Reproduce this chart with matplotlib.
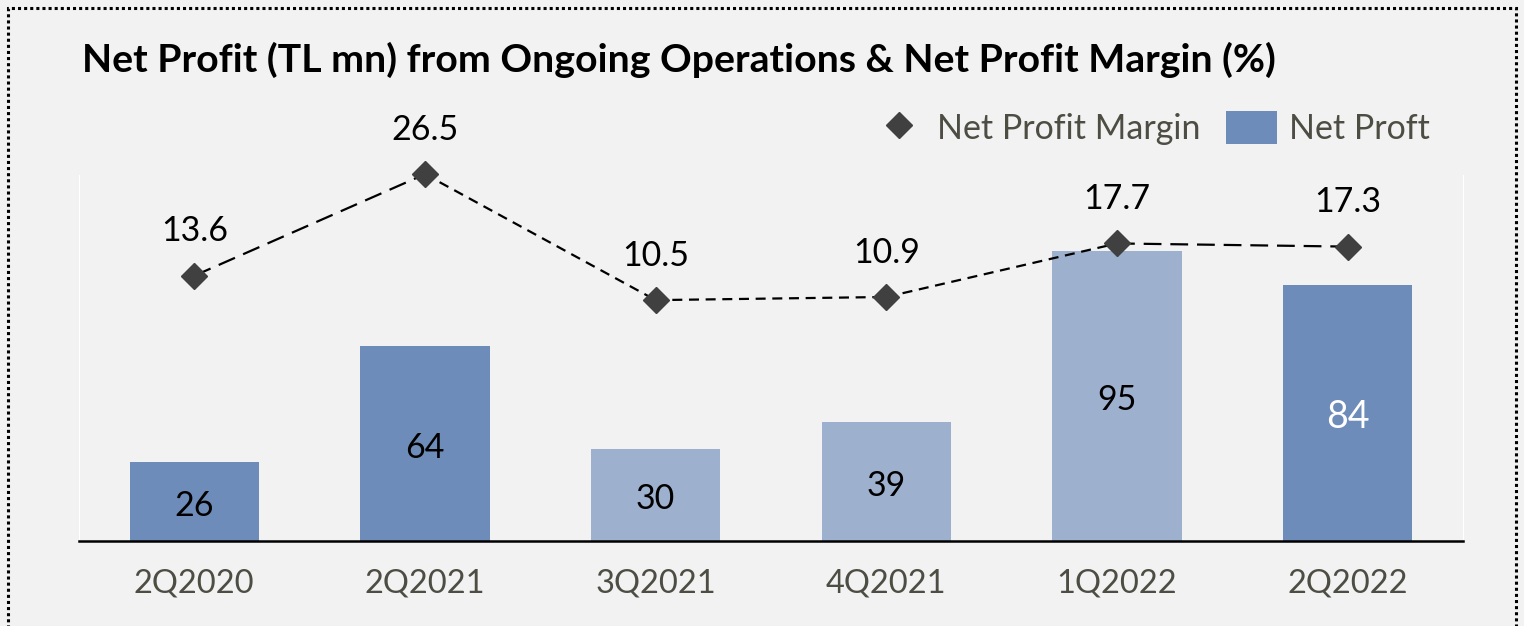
import matplotlib

matplotlib.use("Agg")
import matplotlib.pyplot as plt  # noqa: E402
from matplotlib.lines import Line2D  # noqa: E402
from matplotlib.patches import Patch, Rectangle  # noqa: E402

plt.rcParams["font.family"] = ["Lato", "DejaVu Sans"]

quarters = ["2Q2020", "2Q2021", "3Q2021", "4Q2021", "1Q2022", "2Q2022"]
net_profit = [26, 64, 30, 39, 95, 84]
net_margin = [13.6, 26.5, 10.5, 10.9, 17.7, 17.3]

DARK = "#6d8cb9"
LIGHT = "#9db0ce"
BG = "#f2f2f2"
TXT = "#4d4d44"
bar_colors = [DARK, DARK, LIGHT, LIGHT, LIGHT, DARK]
# dash pattern per segment of the margin line (long / short)
seg_dashes = [(8, 4), (4.5, 3), (4.5, 3), (4.5, 3), (8, 4)]

fig = plt.figure(figsize=(15.24, 6.26), dpi=100, facecolor=BG)
ax = fig.add_axes([0.0518, 0.1358, 0.9082, 0.5847])
ax.set_facecolor(BG)

x = list(range(len(quarters)))
bars = ax.bar(x, net_profit, width=0.56, color=bar_colors, zorder=2)
for i, (b, v) in enumerate(zip(bars, net_profit)):
    last = i == len(net_profit) - 1
    ax.annotate(str(v), xy=(b.get_x() + b.get_width() / 2, v / 2),
                xytext=(0, -3), textcoords="offset points",
                ha="center", va="center",
                color="white" if last else "black",
                fontsize=27 if last else 24.5, zorder=3)

ax.set_xlim(-0.5, len(quarters) - 0.5)
ax.set_ylim(0, 120)
ax.set_xticks(x)
ax.set_xticklabels(quarters, fontsize=23.5, color=TXT)
ax.tick_params(axis="x", length=0, pad=20)
ax.set_yticks([])
ax.spines["top"].set_visible(False)
ax.spines["left"].set_color("white")
ax.spines["right"].set_color("white")
ax.spines["bottom"].set_color("black")
ax.spines["bottom"].set_linewidth(1.8)

ax2 = ax.twinx()
ax2.set_ylim(-20.1, 26.4)
ax2.set_yticks([])
for s in ax2.spines.values():
    s.set_visible(False)
for i in range(len(net_margin) - 1):
    ln, = ax2.plot(x[i:i + 2], net_margin[i:i + 2], color="black", lw=1.6,
                   zorder=3, clip_on=False)
    ln.set_dashes(seg_dashes[i])
ax2.plot(x, net_margin, linestyle="none", marker="D", ms=13,
         color="#404040", zorder=4, clip_on=False)
for xi, v in zip(x, net_margin):
    ax2.annotate(f"{v:.1f}", xy=(xi, v), xytext=(0, 32), textcoords="offset points",
                 ha="center", va="center", fontsize=24.5, color="black",
                 annotation_clip=False)

fig.text(82 / 1524, 1 - 60 / 626,
         "Net Profit (TL mn) from Ongoing Operations & Net Profit Margin (%)",
         fontsize=28.3, fontweight="bold", ha="left", va="center", color="black")

handles = [Line2D([], [], linestyle="none", marker="D", ms=13, color="#404040"),
           Patch(facecolor=DARK)]
fig.legend(handles, ["Net Profit Margin", "Net Proft"], ncol=2, frameon=False,
           loc="center right", bbox_to_anchor=(1460 / 1524, 1 - 128 / 626),
           fontsize=24.5, labelcolor=TXT, handlelength=1.5, handleheight=1.1,
           handletextpad=0.35, columnspacing=0.75)

fig.add_artist(Rectangle((8 / 1524, -0.02), 1508 / 1524, 1.02 - 8 / 626,
                         transform=fig.transFigure, fill=False, edgecolor="black",
                         linestyle=(0, (1, 1)), linewidth=2.2))

fig.savefig("out.png", dpi=100, facecolor=BG)
